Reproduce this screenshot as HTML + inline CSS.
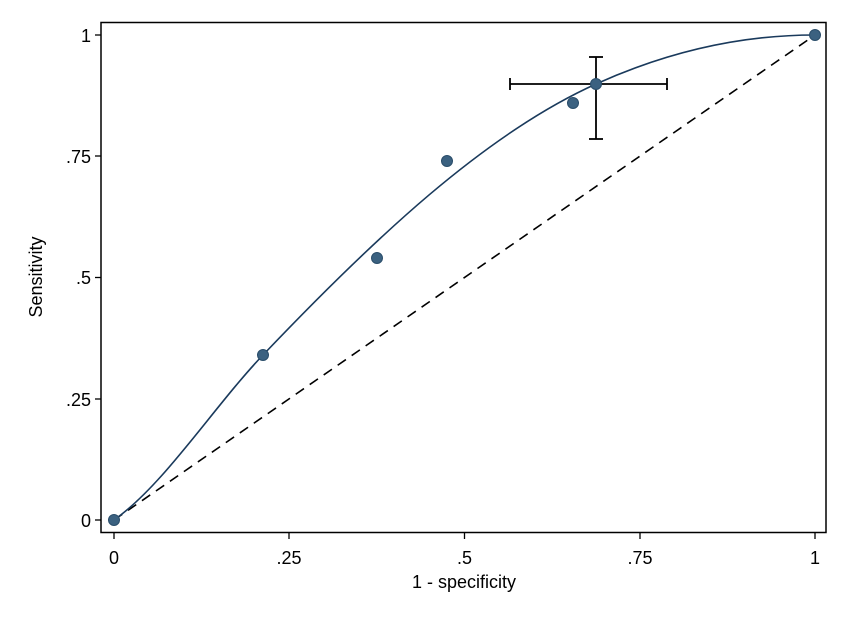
<!DOCTYPE html>
<html><head><style>body{margin:0;background:#fff}svg{display:block}text{font-family:"Liberation Sans",sans-serif;font-size:18px;fill:#000}</style></head><body>
<svg width="850" height="618" viewBox="0 0 850 618">
<rect x="0" y="0" width="850" height="618" fill="#fff"/>
<rect x="101" y="22.5" width="725" height="510" fill="none" stroke="#000" stroke-width="1.5"/>
<g stroke="#000" stroke-width="1.3">
<line x1="95" y1="35" x2="101" y2="35"/><line x1="95" y1="156" x2="101" y2="156"/><line x1="95" y1="277.5" x2="101" y2="277.5"/><line x1="95" y1="399" x2="101" y2="399"/><line x1="95" y1="520" x2="101" y2="520"/>
<line x1="114" y1="533" x2="114" y2="539"/><line x1="289" y1="533" x2="289" y2="539"/><line x1="464.5" y1="533" x2="464.5" y2="539"/><line x1="640" y1="533" x2="640" y2="539"/><line x1="815" y1="533" x2="815" y2="539"/>
</g>
<g text-anchor="end">
<text x="91" y="42">1</text><text x="91" y="163">.75</text><text x="91" y="284">.5</text><text x="91" y="406">.25</text><text x="91" y="527">0</text>
</g>
<g text-anchor="middle">
<text x="114" y="564">0</text><text x="289" y="564">.25</text><text x="464.5" y="564">.5</text><text x="640" y="564">.75</text><text x="815" y="564">1</text>
<text x="464" y="588">1 - specificity</text>
<text transform="translate(42,277) rotate(-90)">Sensitivity</text>
</g>
<line x1="114" y1="520" x2="815" y2="35" stroke="#000" stroke-width="1.6" stroke-dasharray="10,7"/>
<path d="M114,520 C163.7,485.2 213.3,407.2 263,355 C374,238.5 485,134 596,84 C669,51.1 742,35 815,35" fill="none" stroke="#1a3a5c" stroke-width="1.6"/>
<g stroke="#000" stroke-width="1.8">
<line x1="510" y1="84" x2="667" y2="84"/><line x1="510" y1="78" x2="510" y2="90"/><line x1="667" y1="78" x2="667" y2="90"/>
<line x1="596" y1="57" x2="596" y2="139"/><line x1="589" y1="57" x2="603" y2="57"/><line x1="589" y1="139" x2="603" y2="139"/>
</g>
<g fill="#3b6180" stroke="#2a4d6a" stroke-width="1">
<circle cx="114" cy="520" r="5.5"/><circle cx="263" cy="355" r="5.5"/><circle cx="377" cy="258" r="5.5"/><circle cx="447" cy="161" r="5.5"/><circle cx="573" cy="103" r="5.5"/><circle cx="596" cy="84" r="5.5"/><circle cx="815" cy="35" r="5.5"/>
</g>
</svg>
</body></html>
